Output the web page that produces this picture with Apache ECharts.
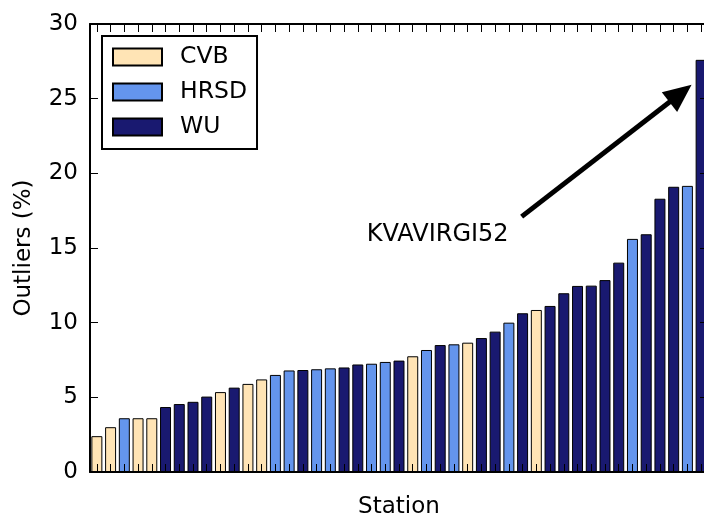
<!DOCTYPE html>
<html>
<head>
<meta charset="utf-8">
<script src="https://cdn.jsdelivr.net/npm/echarts@6/dist/echarts.min.js"></script>
<style>
html, body { margin: 0; padding: 0; background: #fff; }
#chart { width: 704px; height: 514px; }
</style>
</head>
<body>
<div id="chart"></div>
<script>
// Weather stations, sorted by share of flagged outliers
const stations = [
  'S01','S02','S03','S04','S05','S06','S07','S08','S09','S10',
  'S11','S12','S13','S14','S15','S16','S17','S18','S19','S20',
  'S21','S22','S23','S24','S25','S26','S27','S28','S29','S30',
  'S31','S32','S33','S34','S35','S36','S37','S38','S39','S40',
  'S41','S42','S43','S44','KVAVIRGI52'
];
const outliers = [
  2.4, 3.0, 3.6, 3.6, 3.6, 4.35, 4.55, 4.7, 5.05, 5.35,
  5.65, 5.9, 6.2, 6.5, 6.8, 6.83, 6.88, 6.94, 7.0, 7.2,
  7.25, 7.37, 7.46, 7.75, 8.17, 8.5, 8.55, 8.66, 8.97, 9.4,
  10.0, 10.63, 10.85, 11.12, 11.97, 12.46, 12.48, 12.85, 14.02, 15.61,
  15.92, 18.3, 19.1, 19.16, 27.6
];
const network = [
  'CVB','CVB','HRSD','CVB','CVB','WU','WU','WU','WU','CVB',
  'WU','CVB','CVB','HRSD','HRSD','WU','HRSD','HRSD','WU','WU',
  'HRSD','HRSD','WU','CVB','HRSD','WU','HRSD','CVB','WU','WU',
  'HRSD','WU','CVB','WU','WU','WU','WU','WU','WU','HRSD',
  'WU','WU','WU','HRSD','WU'
];
const networks = ['CVB', 'HRSD', 'WU'];
const networkColors = { CVB: '#FFE4B5', HRSD: '#6495ED', WU: '#191970' };
const yTicks = [0, 5, 10, 15, 20, 25, 30];

// Annotation for the station with the highest share (positions in station-index units)
const arrowFrom = [30.93, 17.10];
const arrowTo = [42.50, 25.35];
const noteAt = [19.65, 15.89];
const noteText = stations[stations.length - 1];

const FONT = 'DejaVu Sans';
const chart = echarts.init(document.getElementById('chart'), null, { renderer: 'canvas' });

const barSeries = networks.map(n => ({
  name: n,
  type: 'bar',
  xAxisIndex: 0,
  yAxisIndex: 0,
  barWidth: '80%',
  barGap: '-100%',
  z: 2,
  itemStyle: { color: networkColors[n], borderColor: '#000', borderWidth: 1 },
  emphasis: { disabled: true },
  data: outliers.map((v, i) => (network[i] === n ? v : '-'))
}));

function tickStyle(extra) {
  return Object.assign({ show: true, inside: true, length: 8, lineStyle: { color: '#000', width: 1 } }, extra || {});
}
function spine() {
  return { show: true, onZero: false, lineStyle: { color: '#000', width: 2 } };
}

chart.setOption({
  animation: false,
  backgroundColor: '#fff',
  textStyle: { fontFamily: FONT },
  grid: { left: 90, top: 24, right: -4, bottom: 42, containLabel: false, outerBoundsMode: 'none' },
  legend: {
    data: networks,
    orient: 'vertical',
    left: 102,
    top: 36,
    z: 20,
    padding: [9, 10, 10, 10],
    itemWidth: 49,
    itemHeight: 17,
    itemGap: 11,
    backgroundColor: '#fff',
    borderColor: '#000',
    borderWidth: 2,
    borderRadius: 0,
    icon: 'rect',
    selectedMode: false,
    textStyle: { fontFamily: FONT, fontSize: 23.5, color: '#000', padding: [0, 0, 0, 13] }
  },
  xAxis: [
    {
      type: 'category', data: stations, position: 'bottom', z: 10,
      name: 'Station', nameLocation: 'middle', nameGap: 24,
      nameTextStyle: { fontFamily: FONT, fontSize: 23, color: '#000' },
      axisLine: spine(), axisTick: tickStyle({ alignWithLabel: true, interval: 0 }),
      axisLabel: { show: false }, splitLine: { show: false }
    },
    {
      type: 'category', data: stations, position: 'top', z: 10,
      axisLine: spine(), axisTick: tickStyle({ alignWithLabel: true, interval: 0 }),
      axisLabel: { show: false }, splitLine: { show: false }
    },
    {
      type: 'value', min: -0.5, max: stations.length - 0.5, show: false,
      axisLine: { onZero: false }
    }
  ],
  yAxis: [
    {
      type: 'value', position: 'left', z: 10, min: yTicks[0], max: yTicks[yTicks.length - 1],
      interval: yTicks[1] - yTicks[0],
      name: 'Outliers (%)', nameLocation: 'middle', nameGap: 54, nameRotate: 90,
      nameTextStyle: { fontFamily: FONT, fontSize: 23, color: '#000' },
      axisLine: spine(), axisTick: tickStyle(),
      axisLabel: { fontFamily: FONT, fontSize: 23, color: '#000', margin: 12 },
      splitLine: { show: false }
    },
    {
      type: 'value', position: 'right', z: 10, min: yTicks[0], max: yTicks[yTicks.length - 1],
      interval: yTicks[1] - yTicks[0],
      axisLine: spine(), axisTick: tickStyle(),
      axisLabel: { show: false }, splitLine: { show: false }
    }
  ],
  series: barSeries.concat([
    {
      name: 'note',
      type: 'scatter',
      xAxisIndex: 2,
      yAxisIndex: 0,
      symbolSize: 0,
      silent: true,
      z: 12,
      itemStyle: { opacity: 1 },
      data: [noteAt],
      label: {
        show: true, position: 'right', distance: 0,
        formatter: noteText,
        fontFamily: FONT, fontSize: 24, color: '#000', opacity: 1,
        align: 'left', verticalAlign: 'middle'
      },
      markLine: {
        silent: true,
        animation: false,
        symbol: ['none', 'triangle'],
        symbolSize: [25, 28],
        label: { show: false },
        lineStyle: { color: '#000', width: 5, type: 'solid', opacity: 1 },
        emphasis: { disabled: true },
        data: [[{ coord: arrowFrom }, { coord: arrowTo }]]
      }
    }
  ])
});
</script>
</body>
</html>
